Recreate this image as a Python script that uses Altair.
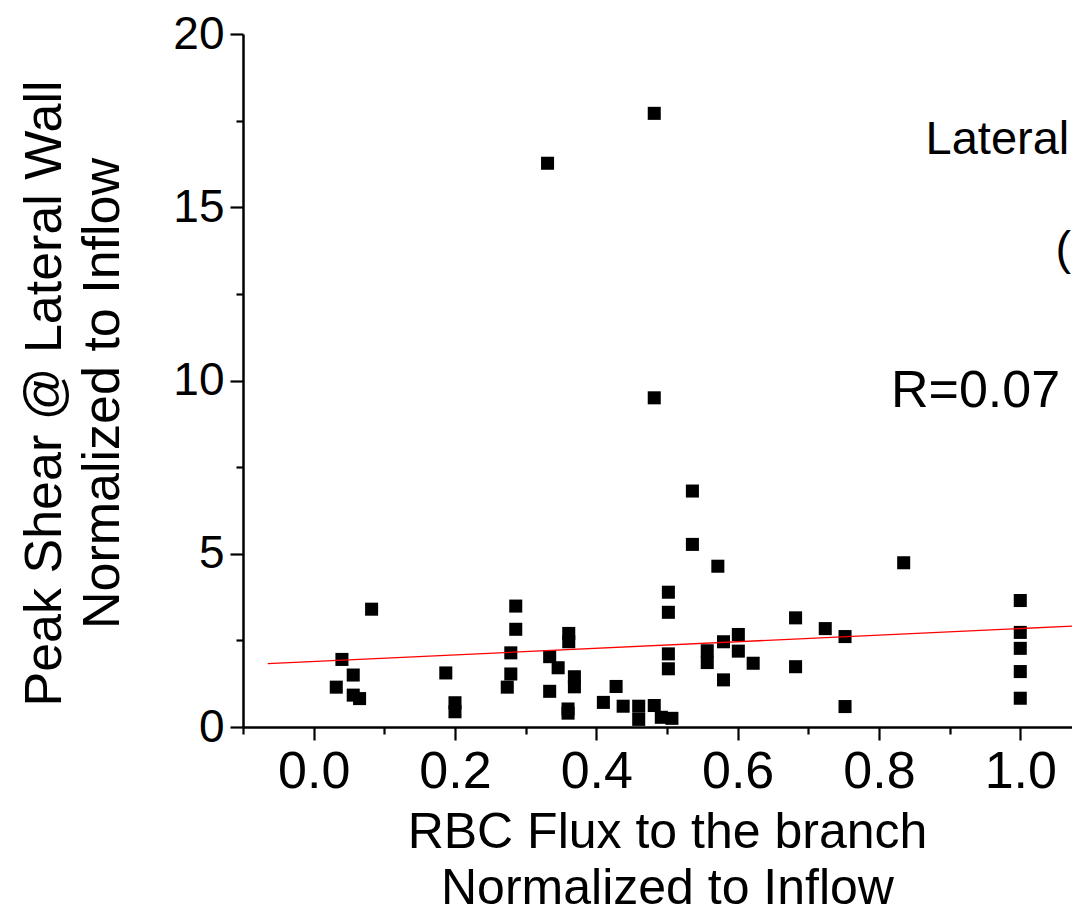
import altair as alt
import pandas as pd

# ---- data ----
flux = [0.032, 0.040, 0.056, 0.056, 0.065, 0.082,
        0.187, 0.200, 0.200,
        0.274, 0.279, 0.279, 0.286, 0.286,
        0.331, 0.334, 0.334, 0.346,
        0.361, 0.361, 0.369, 0.369, 0.360, 0.360,
        0.410, 0.428, 0.438, 0.460, 0.460, 0.482, 0.492, 0.507,
        0.482, 0.482,
        0.502, 0.502, 0.502, 0.502,
        0.536, 0.536, 0.557, 0.557, 0.572, 0.580, 0.580,
        0.601, 0.601, 0.622, 0.682, 0.682, 0.724, 0.752, 0.752, 0.835,
        1.0, 1.0, 1.0, 1.0, 1.0]
shear = [1.15, 1.95, 1.50, 0.92, 0.82, 3.40,
         1.56, 0.70, 0.44,
         1.15, 2.14, 1.53, 3.49, 2.82,
         16.27, 2.03, 1.03, 1.71,
         2.70, 2.46, 1.45, 1.16, 0.52, 0.40,
         0.71, 1.17, 0.60, 0.60, 0.22, 0.62, 0.28, 0.25,
         17.71, 9.50,
         3.89, 3.31, 2.11, 1.68,
         6.81, 5.27, 2.20, 1.86, 4.64, 2.46, 1.36,
         2.67, 2.19, 1.84, 3.15, 1.74, 2.84, 2.61, 0.59, 4.74,
         3.65, 2.73, 2.27, 1.60, 0.83]

fit_x = [-0.065, 1.0732]
fit_y = [1.83, 2.91]

note_text = ["Lateral", "(", "R=0.07"]
note_x = [0.866, 1.050, 0.817]
note_y = [16.54, 13.36, 9.235]
note_size = [47, 47, 52]

x_ticks = [-0.1, 0.0, 0.1, 0.2, 0.3, 0.4, 0.5, 0.6, 0.7, 0.8, 0.9, 1.0]
y_ticks = [0, 2.5, 5, 7.5, 10, 12.5, 15, 17.5, 20]

FONT = "Liberation Sans"

pts = pd.DataFrame({"x": flux, "y": shear})
fit = pd.DataFrame({"x": fit_x, "y": fit_y})
notes = pd.DataFrame({"x": note_x, "y": note_y, "t": note_text, "s": note_size})

xscale = alt.Scale(domain=[-0.1, 1.0732], nice=False, zero=False)
yscale = alt.Scale(domain=[0, 20], nice=False, zero=False)

x_major = "abs(round(datum.value*10)) % 2 == 0"
y_major = "datum.value % 5 == 0"

xaxis = alt.Axis(
    values=x_ticks,
    labelExpr=f"({x_major}) ? format(datum.value, '.1f') : ''",
    tickSize={"condition": {"test": x_major, "value": 13}, "value": 7},
    tickWidth=2.2, tickColor="black",
    domainColor="black", domainWidth=2.5,
    labelFont=FONT, labelFontSize=52, labelColor="black", labelPadding=6,
    labelFlush=False, labelOverlap=False,
    grid=False,
    title=["RBC Flux to the branch", "Normalized to Inflow"],
    titleFont=FONT, titleFontSize=50, titleFontWeight="normal", titleColor="black",
    titleLineHeight=56, titleX=424, titleY=120, titleAlign="center",
    titleBaseline="alphabetic", titleAngle=0,
)
yaxis = alt.Axis(
    values=y_ticks,
    labelExpr=f"({y_major}) ? format(datum.value, 'd') : ''",
    tickSize={"condition": {"test": y_major, "value": 13}, "value": 7},
    tickWidth=2.2, tickColor="black",
    domainColor="black", domainWidth=2.5,
    labelFont=FONT, labelFontSize=46, labelColor="black", labelPadding=6,
    labelFlush=False, labelOverlap=False,
    grid=False,
    title=["Peak Shear @ Lateral Wall", "Normalized to Inflow"],
    titleFont=FONT, titleFontSize=52, titleFontWeight="normal", titleColor="black",
    titleLineHeight=58, titleX=-183, titleY=359, titleAlign="center",
    titleBaseline="alphabetic", titleAngle=270,
)

X = alt.X("x:Q", scale=xscale, axis=xaxis)
Y = alt.Y("y:Q", scale=yscale, axis=yaxis)

points = alt.Chart(pts).mark_square(size=170, color="black", opacity=1, filled=True).encode(x=X, y=Y)

line = alt.Chart(fit).mark_line(color="#ff0000", strokeWidth=1.3, clip=True).encode(x=X, y=Y)

text = alt.Chart(notes).mark_text(
    align="left", baseline="alphabetic", font=FONT, color="black"
).encode(
    x=X, y=Y,
    text="t:N",
    size=alt.Size("s:Q", scale=None, legend=None),
)

chart = alt.layer(points, line, text).properties(
    width=829, height=693,
    autosize=alt.AutoSizeParams(type="none"),
    padding={"left": 235, "top": 26, "right": 0, "bottom": 187},
).configure(background="white").configure_view(stroke=None)

chart.save("out.html", embed_options={"renderer": "svg", "actions": False})
